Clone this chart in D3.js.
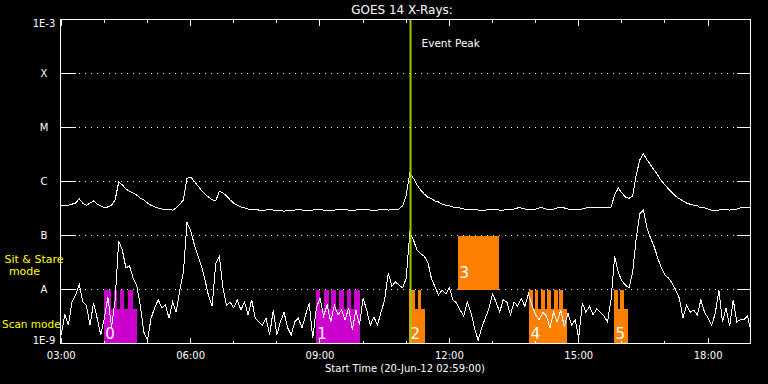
<!DOCTYPE html>
<html><head><meta charset="utf-8">
<script src="https://cdn.jsdelivr.net/npm/d3@7"></script>
<style>
html,body{margin:0;padding:0;background:#000;}
svg{display:block;background:#000;}
text{font-family:"DejaVu Sans",sans-serif;}
</style></head><body>
<svg id="chart" width="768" height="384"></svg>
<script>
// ---------- DATA ----------
const plotStart = "02:59", plotEnd = "18:59";
// sample times, minutes of day (20-Jun-2012 UT)
const sampleMinutes = [
180,185,190,195,200,205,210,215,220,225,230,235,
240,245,250,255,260,265,270,275,280,285,290,295,
300,305,310,315,320,325,330,335,340,345,350,355,
360,365,370,375,380,385,390,395,400,405,410,415,
420,425,430,435,440,445,450,455,460,465,470,475,
480,485,490,495,500,505,510,515,520,525,530,535,
540,545,550,555,560,565,570,575,580,585,590,595,
600,605,610,615,620,625,630,635,640,645,650,655,
660,665,670,675,680,685,690,695,700,705,710,715,
720,725,730,735,740,745,750,755,760,765,770,775,
780,785,790,795,800,805,810,815,820,825,830,835,
840,845,850,855,860,865,870,875,880,885,890,895,
900,905,910,915,920,925,930,935,940,945,950,955,
960,965,970,975,980,985,990,995,1000,1005,1010,1015,
1020,1025,1030,1035,1040,1045,1050,1055,1060,1065,1070,1075,
1080,1085,1090,1095,1100,1105,1110,1115,1120,1125,1130,1135,
1140];
// log10 flux (W/m^2), 1-8 A channel
const longLog10 = [
-6.44,-6.44,-6.44,-6.42,-6.40,-6.32,-6.40,-6.44,-6.40,-6.36,-6.42,-6.45,
-6.49,-6.47,-6.44,-6.34,-6.01,-6.06,-6.14,-6.18,-6.21,-6.25,-6.31,-6.34,
-6.40,-6.44,-6.47,-6.49,-6.51,-6.51,-6.51,-6.53,-6.49,-6.42,-6.34,-5.94,
-5.92,-5.99,-6.08,-6.16,-6.23,-6.29,-6.34,-6.36,-6.18,-6.21,-6.27,-6.34,
-6.40,-6.44,-6.47,-6.49,-6.51,-6.51,-6.51,-6.53,-6.53,-6.53,-6.51,-6.53,
-6.53,-6.53,-6.55,-6.53,-6.53,-6.53,-6.51,-6.53,-6.53,-6.53,-6.53,-6.51,
-6.51,-6.53,-6.53,-6.53,-6.53,-6.51,-6.51,-6.51,-6.53,-6.53,-6.53,-6.51,
-6.51,-6.51,-6.53,-6.53,-6.53,-6.51,-6.51,-6.53,-6.51,-6.51,-6.51,-6.45,
-6.25,-5.84,-5.94,-6.06,-6.16,-6.23,-6.29,-6.32,-6.36,-6.38,-6.42,-6.44,
-6.45,-6.47,-6.49,-6.49,-6.51,-6.51,-6.51,-6.51,-6.53,-6.53,-6.53,-6.51,
-6.51,-6.51,-6.53,-6.53,-6.51,-6.51,-6.51,-6.49,-6.49,-6.51,-6.51,-6.51,
-6.51,-6.49,-6.49,-6.51,-6.51,-6.51,-6.49,-6.49,-6.49,-6.51,-6.51,-6.51,
-6.51,-6.51,-6.49,-6.49,-6.49,-6.49,-6.49,-6.49,-6.49,-6.47,-6.25,-6.12,
-6.21,-6.29,-6.31,-6.27,-5.88,-5.60,-5.49,-5.60,-5.69,-5.79,-5.88,-5.99,
-6.06,-6.14,-6.21,-6.27,-6.32,-6.36,-6.40,-6.42,-6.44,-6.45,-6.49,-6.49,
-6.51,-6.53,-6.53,-6.53,-6.51,-6.51,-6.53,-6.51,-6.51,-6.49,-6.49,-6.49,
-6.49];
// log10 flux (W/m^2), 0.5-4 A channel
const shortLog10 = [
-8.84,-8.47,-8.66,-8.23,-8.10,-7.90,-8.23,-8.29,-8.66,-8.25,-8.53,-8.84,
-8.53,-8.14,-8.71,-8.19,-7.10,-7.27,-7.60,-7.56,-7.79,-7.92,-8.29,-8.79,
-8.94,-8.53,-8.34,-8.19,-8.34,-8.29,-8.53,-8.23,-8.42,-8.01,-7.68,-6.76,
-6.90,-7.16,-7.36,-7.56,-7.82,-8.12,-8.31,-7.52,-7.38,-7.97,-8.29,-8.23,
-8.34,-8.19,-8.38,-8.23,-8.47,-8.19,-8.53,-8.60,-8.66,-8.53,-8.84,-8.38,
-8.84,-8.60,-8.42,-8.71,-8.84,-8.60,-8.53,-8.71,-8.47,-8.25,-8.90,-8.34,
-8.16,-8.49,-8.29,-8.60,-8.29,-8.47,-8.38,-8.56,-8.34,-8.75,-8.38,-8.66,
-8.16,-8.38,-8.66,-8.51,-8.66,-8.42,-8.19,-7.69,-7.94,-7.86,-7.92,-7.97,
-7.79,-6.95,-7.08,-7.27,-7.34,-7.38,-7.49,-7.79,-7.95,-8.10,-8.01,-8.08,
-7.97,-8.19,-8.25,-8.38,-8.49,-8.23,-8.42,-8.71,-8.94,-8.71,-8.53,-8.36,
-8.08,-8.23,-8.42,-8.19,-8.23,-8.47,-8.23,-8.31,-8.16,-8.31,-8.08,-8.29,
-8.47,-8.56,-8.42,-8.49,-8.71,-8.42,-8.60,-8.38,-8.69,-8.44,-8.66,-8.56,
-8.90,-8.25,-8.42,-8.31,-8.47,-8.36,-8.42,-8.49,-8.60,-8.19,-7.38,-7.68,
-7.84,-7.92,-7.97,-7.68,-7.05,-6.60,-6.53,-6.86,-7.05,-7.21,-7.42,-7.60,
-7.73,-7.79,-7.88,-8.01,-8.16,-8.53,-8.29,-8.42,-8.38,-8.47,-8.19,-8.42,
-8.53,-8.66,-8.44,-8.01,-8.60,-8.34,-8.68,-8.19,-8.60,-8.56,-8.56,-8.49,
-8.81];
const levelValues = [1e-9,1e-8,1e-7,1e-6,1e-5,1e-4,1e-3];
const levelLabels = ["1E-9","A","B","C","M","X","1E-3"];
const majorTickTimes = ["03:00","06:00","09:00","12:00","15:00","18:00"];
const eventPeakTime = "11:06";
// IRIS observations
const obsLabels = ["0","1","2","3","4","5"];
const obsModes  = ["scan","scan","scan","stare","scan","scan"];
const obsStart  = ["03:59","08:54","11:04","12:12","13:51","15:49"];
const obsEnd    = ["04:46","09:55","11:26","13:09","14:44","16:08"];
const obsSteps  = [
  [["03:59","04:09"],["04:13","04:18"],["04:22","04:28"],["04:33","04:40"]],
  [["08:54","09:00"],["09:06","09:12"],["09:15","09:22"],["09:27","09:33"],["09:37","09:43"],["09:47","09:55"]],
  [["11:04","11:12"],["11:16","11:21"]],
  [],
  [["13:51","13:57"],["13:59","14:04"],["14:07","14:13"],["14:16","14:22"],["14:25","14:31"],["14:33","14:38"]],
  [["15:49","15:55"],["15:57","16:03"]]
];
const scanBaseFlux = 4.3e-9, scanTopFlux = 1e-8, stareLowFlux = 1e-8, stareTopFlux = 1e-7;

// ---------- STYLE ----------
(function(){
const obsColors = ["#cc00cc","#cc00cc","#ff8000","#ff8000","#ff8000","#ff8000"];
const pL = 60.5, pR = 750.5, pT = 19.5, pB = 343.5;

const T = s => new Date(Date.UTC(2012,5,20,+s.slice(0,2),+s.slice(3,5)));
const Mn = m => new Date(Date.UTC(2012,5,20,0,m));

const svg = d3.select("#chart");
const x = d3.scaleUtc().domain([T(plotStart),T(plotEnd)]).range([pL,pR]);
const y = d3.scaleLog().domain([1e-9,1e-3]).range([pB,pT]);

svg.append("defs").append("clipPath").attr("id","plotclip")
  .append("rect").attr("x",pL).attr("y",pT).attr("width",pR-pL).attr("height",pB-pT);

// dotted grid
svg.append("g").selectAll("line").data(levelValues.slice(1,-1)).join("line")
  .attr("x1",pL).attr("x2",pR).attr("y1",d=>y(d)).attr("y2",d=>y(d))
  .attr("stroke","#fff").attr("stroke-dasharray","1 5").attr("shape-rendering","crispEdges");

// observation blocks
const obsG = svg.append("g").attr("shape-rendering","crispEdges");
obsLabels.forEach((lab,i)=>{
  const c = obsColors[i];
  const x0 = x(T(obsStart[i])), x1 = x(T(obsEnd[i]));
  if (obsModes[i]==="scan"){
    obsG.append("rect").attr("x",x0).attr("width",x1-x0)
      .attr("y",y(scanBaseFlux)).attr("height",y(1e-9)-y(scanBaseFlux)).attr("fill",c);
    obsSteps[i].forEach(s=>{
      const a = x(T(s[0])), b = x(T(s[1]));
      obsG.append("rect").attr("x",a).attr("width",b-a)
        .attr("y",y(scanTopFlux)).attr("height",y(1e-9)-y(scanTopFlux)).attr("fill",c);
    });
  } else {
    obsG.append("rect").attr("x",x0).attr("width",x1-x0)
      .attr("y",y(stareTopFlux)).attr("height",y(stareLowFlux)-y(stareTopFlux)).attr("fill",c);
  }
});

// curves
const series = [longLog10, shortLog10].map(arr => arr.map((v,i)=>({t:Mn(sampleMinutes[i]), v:Math.pow(10,v)})));
const line = d3.line().x(d=>x(d.t)).y(d=>y(d.v));
svg.append("g").attr("clip-path","url(#plotclip)").selectAll("path").data(series).join("path")
  .attr("d",line).attr("fill","none").attr("stroke","#fff").attr("stroke-width",1)
  .attr("shape-rendering","crispEdges");

// observation numbers
const labG = svg.append("g");
obsLabels.forEach((lab,i)=>{
  const x0 = x(T(obsStart[i]));
  const base = obsModes[i]==="scan" ? y(1e-9)-5 : y(stareLowFlux)-12;
  labG.append("text").attr("x",x0+1.5).attr("y",base).text(lab)
    .attr("fill","#fff").attr("font-size","15px")
    .attr("font-family","Liberation Sans, sans-serif");
});

// event peak
const ex = x(T(eventPeakTime));
svg.append("line").attr("x1",ex).attr("x2",ex).attr("y1",pT).attr("y2",pB)
  .attr("stroke","#99cc00").attr("stroke-width",2);
svg.append("text").attr("x",ex+11).attr("y",46.5).text("Event Peak")
  .attr("fill","#fff").attr("font-size","10.5px");

// frame
svg.append("rect").attr("x",pL).attr("y",pT).attr("width",pR-pL).attr("height",pB-pT)
  .attr("fill","none").attr("stroke","#fff").attr("shape-rendering","crispEdges");

// axes
function styleAxis(g){
  g.attr("color","#fff").attr("font-family","DejaVu Sans, sans-serif").attr("font-size",10)
   .attr("shape-rendering","crispEdges");
  g.select(".domain").remove();
}
const hourly = d3.utcHour.every(1);
svg.append("g").attr("transform",`translate(0,${pB})`)
  .call(d3.axisBottom(x).ticks(hourly).tickSize(-3).tickFormat("").offset(0)).call(styleAxis);
svg.append("g").attr("transform",`translate(0,${pB})`)
  .call(d3.axisBottom(x).tickValues(majorTickTimes.map(T)).tickSize(-6).tickPadding(8)
    .tickFormat(d3.utcFormat("%H:%M")).offset(0)).call(styleAxis);
svg.append("g").attr("transform",`translate(0,${pT})`)
  .call(d3.axisTop(x).ticks(hourly).tickSize(-3).tickFormat("").offset(0)).call(styleAxis);
svg.append("g").attr("transform",`translate(0,${pT})`)
  .call(d3.axisTop(x).tickValues(majorTickTimes.map(T)).tickSize(-6).tickFormat("").offset(0)).call(styleAxis);

const yl = svg.append("g").attr("transform",`translate(${pL},0)`)
  .call(d3.axisLeft(y).tickValues(levelValues).tickSize(-15).tickPadding(0)
    .tickFormat((d,i)=>levelLabels[i]).offset(0)).call(styleAxis);
yl.selectAll("text").attr("text-anchor","middle").attr("x",-16.5)
  .attr("dy",(d,i)=> i===0 ? "0em" : (i===levelValues.length-1 ? "0.72em" : "0.32em"));
svg.append("g").attr("transform",`translate(${pR},0)`)
  .call(d3.axisRight(y).tickValues(levelValues.slice(1,-1)).tickSize(-14).tickFormat("").offset(0)).call(styleAxis);

// titles
svg.append("text").attr("x",402).attr("y",13.5).attr("text-anchor","middle")
  .attr("fill","#fff").attr("font-size","12px").text("GOES 14 X-Rays:");
svg.append("text").attr("x",405).attr("y",371.5).attr("text-anchor","middle")
  .attr("fill","#fff").attr("font-size","10px").text("Start Time (20-Jun-12 02:59:00)");
svg.append("text").attr("x",34).attr("y",262.5).attr("text-anchor","middle")
  .attr("fill","#ffff00").attr("font-size","11px").text("Sit & Stare");
svg.append("text").attr("x",24.5).attr("y",275).attr("text-anchor","middle")
  .attr("fill","#ffff00").attr("font-size","11px").text("mode");
svg.append("text").attr("x",2).attr("y",328).attr("text-anchor","start")
  .attr("fill","#ffff00").attr("font-size","10.5px").text("Scan mode");
})();
</script>
</body></html>
